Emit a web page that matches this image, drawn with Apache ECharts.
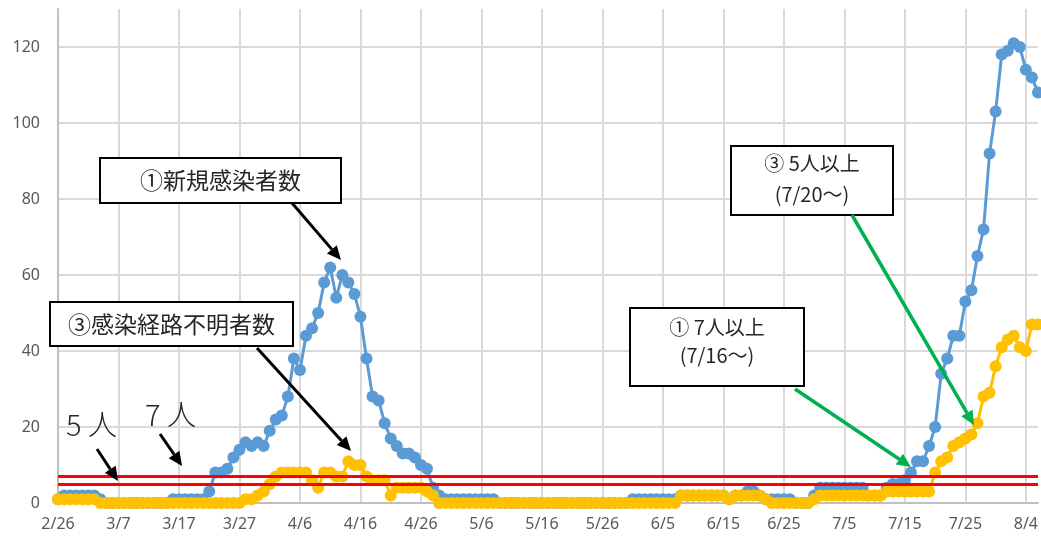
<!DOCTYPE html>
<html>
<head>
<meta charset="utf-8">
<script src="https://cdn.jsdelivr.net/npm/echarts@6/dist/echarts.min.js"></script>
<style>
  html, body { margin: 0; padding: 0; background: #fff; overflow: hidden; }
  #chart { width: 1041px; height: 536px; }
</style>
</head>
<body>
<div id="chart"></div>
<script>
// daily values from 2/26 onward (one per day)
const newCases = [
  1, 2, 2, 2, 2, 2, 2, 1, 0, 0,
  0, 0, 0, 0, 0, 0, 0, 0, 0, 1,
  1, 1, 1, 1, 1, 3, 8, 8, 9, 12,
  14, 16, 15, 16, 15, 19, 22, 23, 28, 38,
  35, 44, 46, 50, 58, 62, 54, 60, 58, 55,
  49, 38, 28, 27, 21, 17, 15, 13, 13, 12,
  10, 9, 4, 2, 1, 1, 1, 1, 1, 1,
  1, 1, 1, 0, 0, 0, 0, 0, 0, 0,
  0, 0, 0, 0, 0, 0, 0, 0, 0, 0,
  0, 0, 0, 0, 0, 1, 1, 1, 1, 1,
  1, 1, 1, 2, 2, 2, 2, 2, 2, 2,
  2, 1, 2, 2, 3, 3, 2, 1, 1, 1,
  1, 1, 0, 0, 0, 2, 4, 4, 4, 4,
  4, 4, 4, 4, 2, 2, 2, 4, 5, 5,
  6, 8, 11, 11, 15, 20, 34, 38, 44, 44,
  53, 56, 65, 72, 92, 103, 118, 119, 121, 120,
  114, 112, 108
]
const unknownRoute = [
  1, 1, 1, 1, 1, 1, 1, 0, 0, 0,
  0, 0, 0, 0, 0, 0, 0, 0, 0, 0,
  0, 0, 0, 0, 0, 0, 0, 0, 0, 0,
  0, 1, 1, 2, 3, 5, 7, 8, 8, 8,
  8, 8, 6, 4, 8, 8, 7, 7, 11, 10,
  10, 7, 6, 6, 6, 2, 4, 4, 4, 4,
  4, 3, 2, 0, 0, 0, 0, 0, 0, 0,
  0, 0, 0, 0, 0, 0, 0, 0, 0, 0,
  0, 0, 0, 0, 0, 0, 0, 0, 0, 0,
  0, 0, 0, 0, 0, 0, 0, 0, 0, 0,
  0, 0, 0, 2, 2, 2, 2, 2, 2, 2,
  2, 1, 2, 2, 2, 2, 2, 1, 0, 0,
  0, 0, 0, 0, 0, 1, 2, 2, 2, 2,
  2, 2, 2, 2, 2, 2, 2, 3, 3, 3,
  3, 3, 3, 3, 3, 8, 11, 12, 15, 16,
  17, 18, 21, 28, 29, 36, 41, 43, 44, 41,
  40, 47, 47
]
const thresholds = [5, 7]
const yTicks = { min: 0, max: 130, step: 20 }

const dates = []
for (let d = new Date(2020, 1, 26); dates.length < newCases.length; d.setDate(d.getDate() + 1)) {
  dates.push(`${d.getMonth() + 1}/${d.getDate()}`)
}

const JP = '"Noto Sans CJK JP", "Noto Sans", sans-serif'

function arrow(x1, y1, x2, y2, color, w) {
  const ang = Math.atan2(y2 - y1, x2 - x1)
  const len = 14, half = 6.5
  const bx = x2 - len * Math.cos(ang), by = y2 - len * Math.sin(ang)
  const px = -Math.sin(ang) * half, py = Math.cos(ang) * half
  return [
    { type: 'line', z: 100, shape: { x1, y1, x2: bx, y2: by }, style: { stroke: color, lineWidth: w } },
    { type: 'polygon', z: 100, shape: { points: [[x2, y2], [bx + px, by + py], [bx - px, by - py]] }, style: { fill: color } }
  ]
}

function box(x, y, w, h, text, size, lh, dy = 0) {
  return [
    { type: 'rect', z: 100, shape: { x, y, width: w, height: h }, style: { fill: '#fff', stroke: '#000', lineWidth: 2 } },
    {
      type: 'text', z: 101, x: x + w / 2, y: y + h / 2 + dy,
      style: { text, fontSize: size, fontFamily: JP, fill: '#262626', align: 'center', verticalAlign: 'middle', lineHeight: lh }
    }
  ]
}

function label(x, y, text) {
  return { type: 'text', z: 100, x, y, style: { text, fontSize: 29, fontFamily: JP, fontWeight: 300, fill: '#262626' } }
}

const chart = echarts.init(document.getElementById('chart'))
chart.setOption({
  animation: false,
  backgroundColor: '#fff',
  grid: { left: 58, top: 9, width: 985, height: 494 },
  xAxis: {
    type: 'category',
    boundaryGap: false,
    data: dates,
    axisLine: { lineStyle: { color: '#bfbfbf', width: 2 } },
    axisTick: { show: false },
    axisLabel: { interval: 9, color: '#595959', fontSize: 16, fontFamily: 'Noto Sans', margin: 13 },
    splitLine: { show: true, interval: 9, lineStyle: { color: '#d9d9d9', width: 2 } }
  },
  yAxis: {
    type: 'value',
    min: yTicks.min,
    max: yTicks.max,
    interval: yTicks.step,
    axisLine: { show: true, lineStyle: { color: '#bfbfbf', width: 2 } },
    axisTick: { show: false },
    axisLabel: { color: '#595959', fontSize: 16, fontFamily: 'Noto Sans', margin: 18, showMaxLabel: false },
    splitLine: { lineStyle: { color: '#d9d9d9', width: 2 }, showMaxLine: false }
  },
  series: [
    {
      name: '新規感染者数',
      type: 'line',
      data: newCases,
      symbol: 'circle',
      symbolSize: 12,
      showSymbol: true,
      showAllSymbol: true,
      lineStyle: { color: '#5b9bd5', width: 3 },
      itemStyle: { color: '#5b9bd5' },
      z: 2
    },
    {
      name: '感染経路不明者数',
      type: 'line',
      data: unknownRoute,
      symbol: 'circle',
      symbolSize: 12,
      showSymbol: true,
      showAllSymbol: true,
      lineStyle: { color: '#ffc000', width: 3 },
      itemStyle: { color: '#ffc000' },
      z: 3
    },
    {
      type: 'line',
      data: [],
      z: 4,
      markLine: {
        silent: true,
        symbol: ['none', 'none'],
        label: { show: false },
        lineStyle: { color: '#ff0000', width: 3, type: 'solid' },
        data: thresholds.map((v) => ({ yAxis: v }))
      }
    }
  ],
  graphic: [
    ...box(100, 158, 241, 45, '①新規感染者数', 23, 26),
    ...arrow(292, 203, 341, 260, '#000', 3),
    ...box(50, 302, 243, 44, '③感染経路不明者数', 23, 26),
    ...arrow(257, 348, 351, 451, '#000', 3),
    ...box(731, 146, 162, 69, '③ 5人以上\n(7/20～)', 20, 31, -2),
    ...arrow(852, 215, 974, 425, '#00b050', 3.5),
    ...box(630, 308, 174, 78, '① 7人以上\n(7/16～)', 20, 28, -6),
    ...arrow(795, 389, 911, 467, '#00b050', 3.5),
    label(66, 410, '5 人'),
    label(145, 400, '7 人'),
    ...arrow(97, 449, 118, 481, '#000', 3),
    ...arrow(160, 434, 182, 466, '#000', 3)
  ]
})
</script>
</body>
</html>
